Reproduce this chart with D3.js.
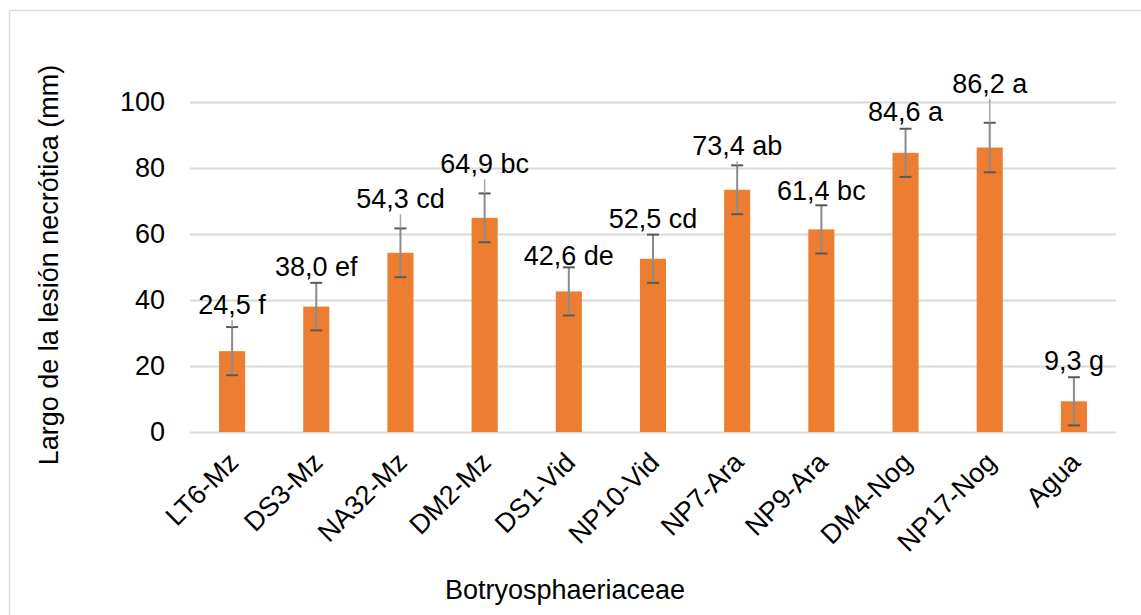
<!DOCTYPE html>
<html lang="es">
  <head>
    <meta charset="UTF-8" />
    <title>Largo de la lesión necrótica</title>
    <script src="https://d3js.org/d3.v7.min.js"></script>
    <style>
      body { margin: 0; background: #fff; }
      text { font-family: "Liberation Sans", Arial, sans-serif; fill: #000; }
    </style>
  </head>
  <body>
    <div class="chart"></div>
    <script>
      // datos del gráfico
      const aislados = ["LT6-Mz", "DS3-Mz", "NA32-Mz", "DM2-Mz", "DS1-Vid", "NP10-Vid",
        "NP7-Ara", "NP9-Ara", "DM4-Nog", "NP17-Nog", "Agua"];
      const medias = [24.5, 38.0, 54.3, 64.9, 42.6, 52.5, 73.4, 61.4, 84.6, 86.2, 9.3];
      const errores = [7.3, 7.2, 7.4, 7.4, 7.3, 7.3, 7.4, 7.3, 7.3, 7.5, 7.3];
      const letras = ["f", "ef", "cd", "bc", "de", "cd", "ab", "bc", "a", "a", "g"];
      const yTicks = [0, 20, 40, 60, 80, 100];

      // distancia (px) de cada etiqueta sobre la barra de error, como en el original
      const labelLift = [13, 7, 20, 20, 2, 7, 10, 5, 8, 30, 7];

      const width = 1141;
      const height = 615;
      const plot = { left: 190, right: 1116, top: 102, bottom: 432 };
      const fs = "27px";

      const svg = d3
        .select(".chart")
        .append("svg")
        .attr("width", width)
        .attr("height", height);

      // marco
      svg.append("rect")
        .attr("x", 9.5).attr("y", 10.5)
        .attr("width", width + 20).attr("height", height + 20)
        .attr("fill", "none")
        .attr("stroke", "#d9d9d9")
        .attr("stroke-width", 1.5);

      const xScale = d3
        .scaleBand()
        .domain(aislados)
        .range([plot.left, plot.right])
        .paddingInner(0.69)
        .paddingOuter(0.345);

      const yScale = d3
        .scaleLinear()
        .domain([0, 100])
        .range([plot.bottom, plot.top]);

      // líneas de cuadrícula y eje y
      const yAxis = svg
        .append("g")
        .attr("transform", `translate(${plot.left},0)`)
        .call(
          d3.axisLeft(yScale)
            .tickValues(yTicks)
            .tickSize(-(plot.right - plot.left))
            .tickPadding(25)
        );
      yAxis.select(".domain").remove();
      yAxis.selectAll(".tick line").attr("stroke", "#d9d9d9").attr("stroke-width", 2);
      yAxis.selectAll(".tick text")
        .style("font-size", fs)
        .style("font-family", "Liberation Sans, Arial, sans-serif")
        .attr("fill", "#000");

      // barras
      svg.append("g")
        .selectAll("rect")
        .data(medias)
        .join("rect")
        .attr("x", (d, i) => xScale(aislados[i]))
        .attr("y", (d) => yScale(d))
        .attr("width", xScale.bandwidth())
        .attr("height", (d) => yScale(0) - yScale(d))
        .attr("fill", "#ed7d31");

      const cx = (i) => xScale(aislados[i]) + xScale.bandwidth() / 2;

      // barras de error
      const err = svg.append("g");
      medias.forEach((m, i) => {
        const x = cx(i);
        const yTop = yScale(m + errores[i]);
        const yBot = yScale(m - errores[i]);
        err.append("line")
          .attr("x1", x).attr("x2", x)
          .attr("y1", yTop).attr("y2", yBot)
          .attr("stroke", "#8c8c8c").attr("stroke-width", 2);
        [yTop, yBot].forEach((yy) => {
          err.append("line")
            .attr("x1", x - 6).attr("x2", x + 6)
            .attr("y1", yy).attr("y2", yy)
            .attr("stroke", "#595959").attr("stroke-width", 2);
        });
      });

      // etiquetas de datos
      const lab = svg.append("g");
      medias.forEach((m, i) => {
        const x = cx(i);
        const yTop = yScale(m + errores[i]);
        const base = yTop - labelLift[i];
        if (labelLift[i] >= 10) {
          lab.append("line")
            .attr("x1", x).attr("x2", x)
            .attr("y1", base + 6).attr("y2", yTop)
            .attr("stroke", "#a6a6a6").attr("stroke-width", 1.5);
        }
        lab.append("text")
          .attr("x", x)
          .attr("y", base)
          .attr("text-anchor", "middle")
          .style("font-size", fs)
          .text(`${d3.format(".1f")(m).replace(".", ",")} ${letras[i]}`);
      });

      // etiquetas del eje x
      svg.append("g")
        .selectAll("text")
        .data(aislados)
        .join("text")
        .attr("text-anchor", "end")
        .attr("transform", (d, i) => `translate(${cx(i) + 8},464) rotate(-45)`)
        .style("font-size", fs)
        .text((d) => d);

      // títulos de ejes
      svg.append("text")
        .attr("x", 565)
        .attr("y", 599)
        .attr("text-anchor", "middle")
        .style("font-size", fs)
        .text("Botryosphaeriaceae");

      svg.append("text")
        .attr("transform", "translate(58,265) rotate(-90)")
        .attr("text-anchor", "middle")
        .style("font-size", fs)
        .text("Largo de la lesión necrótica (mm)");
    </script>
  </body>
</html>
